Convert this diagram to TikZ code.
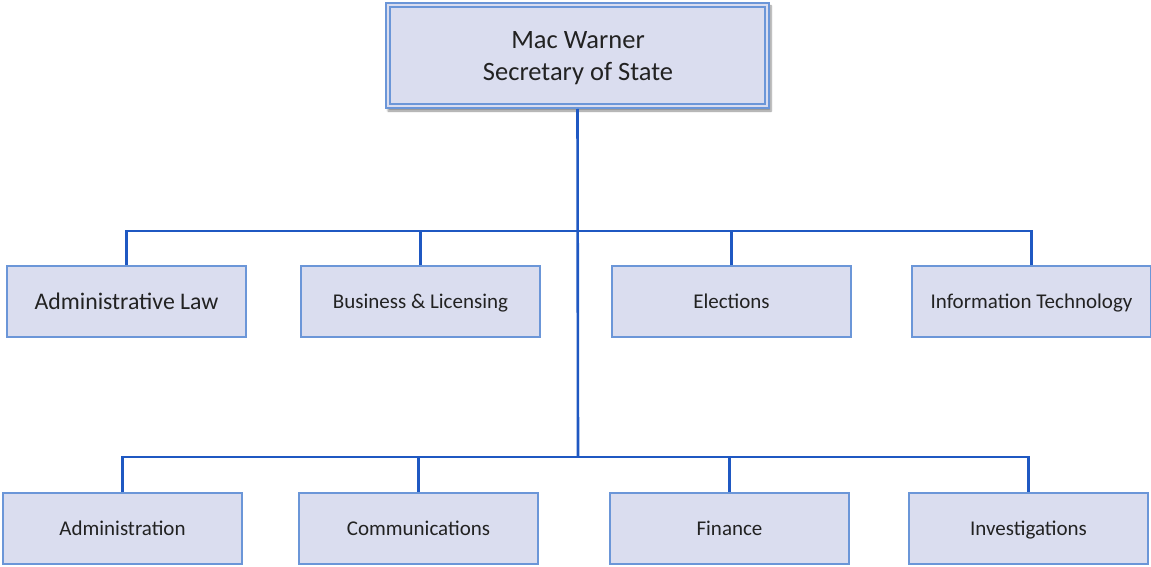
\documentclass[tikz,border=0pt]{standalone}
\usepackage{fontspec}
\setmainfont{Carlito}
\usetikzlibrary{shadows.blur}
\definecolor{boxfill}{HTML}{DADDEF}
\definecolor{boxline}{HTML}{6B96D8}
\definecolor{conn}{HTML}{1F58C2}
\definecolor{txt}{HTML}{222222}
\tikzset{
  unitbox/.style={draw=boxline, line width=1.6pt, fill=boxfill, minimum width=239pt, minimum height=71pt, inner sep=0pt, text=txt,
     font=\fontsize{21}{25}\selectfont, text height=18.5pt, text depth=5pt},
  topbox/.style={draw=boxline, line width=2pt, fill=boxfill, minimum width=383pt, minimum height=105pt, inner sep=0pt,
     blur shadow={shadow xshift=2pt, shadow yshift=-3pt, shadow blur steps=6, shadow opacity=45}},
  toptext/.style={text=txt, align=center, inner sep=0pt, font=\fontsize{26.5}{32}\selectfont},
  link/.style={draw=conn, line width=2.6pt}
}
\begin{document}
\begin{tikzpicture}[x=1pt,y=-1pt]
\useasboundingbox (0,0) rectangle (1151,567);
% top
\node[topbox] (top) at (577.5,55.5) {};
\draw[boxline, line width=1.4pt] ([xshift=5pt,yshift=-5pt]top.north west) rectangle ([xshift=-5pt,yshift=5pt]top.south east);
\node[toptext] (toplabel) at (578,58.5) {Mac Warner\\Secretary of State};
% junctions
\coordinate (j1) at (578,231);
\coordinate (j2) at (578,457);
% row 1
\node[unitbox, font=\fontsize{23.8}{28}\selectfont, text height=20pt, text depth=5pt] (a1) at (126.5,301.5) {Administrative Law};
\node[unitbox] (a2) at (420.5,301.5) {Business \& Licensing};
\node[unitbox] (a3) at (731.5,301.5) {Elections};
\node[unitbox] (a4) at (1031.5,301.5) {Information Technology};
% row 2
\node[unitbox] (b1) at (122.5,528.5) {Administration};
\node[unitbox] (b2) at (418.5,528.5) {Communications};
\node[unitbox] (b3) at (729.5,528.5) {Finance};
\node[unitbox] (b4) at (1028.5,528.5) {Investigations};
% connectors
\draw[link] (top.south) -- (j2);
\draw[link] (a1.north) |- (j1) -| (a4.north);
\draw[link] (a2.north) |- (j1);
\draw[link] (a3.north) |- (j1);
\draw[link] (b1.north) |- (j2) -| (b4.north);
\draw[link] (b2.north) |- (j2);
\draw[link] (b3.north) |- (j2);
\end{tikzpicture}
\end{document}
